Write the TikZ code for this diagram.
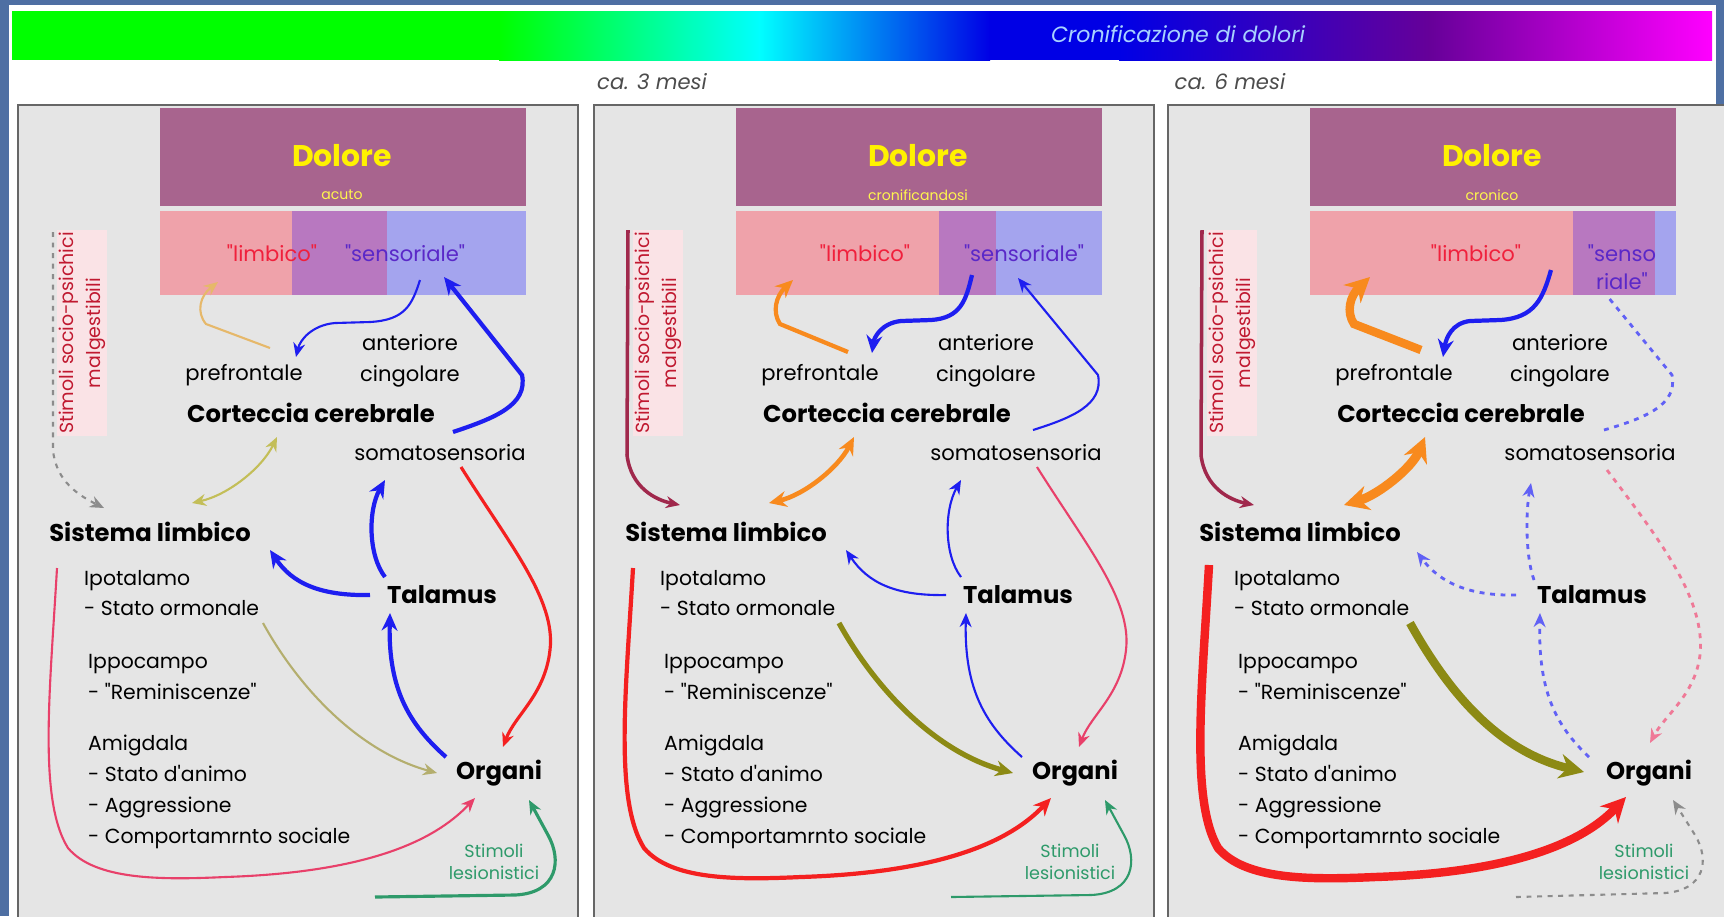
\documentclass[tikz,border=0pt]{standalone}
\usepackage{fontspec}
\setmainfont{Poppins}[Ligatures=TeXOff]
\usetikzlibrary{arrows.meta,positioning}
\definecolor{slideblue}{HTML}{4E6FA3}
\definecolor{panelgray}{HTML}{E5E5E5}
\definecolor{doloremauve}{HTML}{A8648E}
\definecolor{bandpink}{HTML}{EFA2AA}
\definecolor{bandpurple}{HTML}{B878C0}
\definecolor{bandblue}{HTML}{A4A4EE}
\definecolor{limbred}{HTML}{F0203C}
\definecolor{sensviolet}{HTML}{5A28C8}
\definecolor{arrowblue}{HTML}{1E1EF0}
\definecolor{arroworange}{HTML}{F88A1E}
\definecolor{arrowtan}{HTML}{E6B86A}
\definecolor{arrowolive}{HTML}{8C8A14}
\definecolor{arrowkhaki}{HTML}{B4AE6E}
\definecolor{arrowred}{HTML}{F42020}
\definecolor{arrowpink}{HTML}{E8406A}
\definecolor{stimgreen}{HTML}{2E9A6A}
\definecolor{stimmaroon}{HTML}{A0284C}
\definecolor{bartext}{HTML}{A8D2FF}

% text nodes that every panel repeats
\newcommand{\panelbase}[4]{%
  \fill[panelgray] (18,105) rectangle (578,930);
  \draw[black!60, line width=0.7pt] (18,105) rectangle (578,930);
  \fill[doloremauve] (160,108) rectangle (526,206);
  \fill[bandpink] (160,211) rectangle (#3,295);
  \fill[bandpurple] (#3,211) rectangle (#4,295);
  \fill[bandblue] (#4,211) rectangle (526,295);
  \node[dolore] (#1-dol) at (342,156) {Dolore};
  \node[subtitle] (#1-sub) at (342,195) {#2};
  \node[lbl] (#1-pref) at (244,375) {prefrontale};
  \node[lbl, align=center] (#1-ant) at (410,361) {anteriore\\cingolare};
  \node[big] (#1-cort) at (311,413) {Corteccia cerebrale};
  \node[lbl] (#1-soma) at (440,453) {somatosensoria};
  \node[big] (#1-sist) at (150,532) {Sistema limbico};
  \node[listtext] (#1-ipo) at (80,593) {Ipotalamo\\- Stato ormonale};
  \node[listtext] (#1-ippo) at (84,677) {Ippocampo\\- "Reminiscenze"};
  \node[listtext] (#1-amig) at (84,792) {Amigdala\\- Stato d'animo\\- Aggressione\\- Comportamrnto sociale};
  \node[big] (#1-tal) at (442,595) {Talamus};
  \node[big] (#1-org) at (499,773) {Organi};
  \node[stimtext] (#1-stim) at (494,862) {Stimoli\\lesionistici};
  \node[soctext] (#1-soc) at (82,333) {Stimoli socio-psichici\\malgestibili};
}

\begin{document}
\begin{tikzpicture}[x=0.1mm, y=-0.1mm,
  lbl/.style={font=\fontsize{6}{8.8}\selectfont, inner sep=1pt},
  big/.style={font=\fontsize{6.9}{8}\selectfont\bfseries, inner sep=1pt},
  listtext/.style={font=\fontsize{5.8}{8.8}\selectfont, align=left, anchor=west, inner sep=1pt},
  dolore/.style={font=\fontsize{8.5}{10}\selectfont\bfseries, text=yellow},
  subtitle/.style={font=\fontsize{4}{5}\selectfont, text=yellow!70!white},
  bandtext/.style={font=\fontsize{6}{8}\selectfont, inner sep=1pt, align=center},
  stimtext/.style={font=\fontsize{5}{6.4}\selectfont, text=stimgreen, align=center, inner sep=1pt},
  soctext/.style={font=\fontsize{5.4}{7.6}\selectfont, text=limbred!80!black, fill=bandpink!30, rotate=90, align=center, inner sep=0.5pt},
  arrthin/.style={line width=0.6pt, -{Stealth[length=4pt,width=3.4pt]}},
  arrmed/.style={line width=1.2pt, -{Stealth[length=5pt,width=4.5pt]}},
  arrthick/.style={line width=2.4pt, -{Stealth[length=7pt,width=7pt]}},
  dotline/.style={dash pattern=on 1.4pt off 1.6pt}
]
\useasboundingbox (0,0) rectangle (1724,916);
\clip (0,0) rectangle (1724,916);
\fill[slideblue] (0,0) rectangle (1724,916);
\fill[white] (9,5) rectangle (1716,916);

% colour bar
\fill[green] (12,11) rectangle (500,60);
\shade[left color=green, right color=cyan] (499,11) rectangle (760,60);
\shade[left color=cyan, right color=blue!90!black] (759,11) rectangle (990,60);
\fill[blue!90!black] (989,11) rectangle (1120,60);
\shade[left color=blue!90!black, right color=violet!80!blue] (1119,11) rectangle (1430,60);
\shade[left color=violet!80!blue, right color=magenta] (1429,11) rectangle (1712,60);
\node[font=\fontsize{6.3}{7}\selectfont\itshape, text=bartext] (bar) at (1178,34) {Cronificazione di dolori};
\node[font=\fontsize{6}{7}\selectfont\itshape, text=black!70] (mesi3) at (652,82) {ca. 3 mesi};
\node[font=\fontsize{6}{7}\selectfont\itshape, text=black!70] (mesi6) at (1230,82) {ca. 6 mesi};

% panel 1: acuto
\begin{scope}
\panelbase{a}{acuto}{292}{387}
\node[bandtext, text=limbred] (a-limb) at (272,253) {"limbico"};
\node[bandtext, text=sensviolet] (a-sens) at (405,253) {"sensoriale"};
\coordinate (a-socline) at (53,232);
\coordinate (a-lesline) at (375,897);
\draw[arrthin, arrowtan] ([xshift=2.6mm,yshift=2.7mm]a-pref.center) -- (206,324)
  .. controls (196,312) and (200,296) .. ([xshift=-5.4mm,yshift=-2.9mm]a-limb.center);
\draw[arrthin, arrowblue] ([xshift=1.5mm,yshift=-2.7mm]a-sens.center)
  .. controls (412,305) and (405,320) .. (370,322) -- (335,323)
  .. controls (312,325) and (300,340) .. ([xshift=5.2mm,yshift=1.8mm]a-pref.center);
\draw[arrmed, arrowblue] ([xshift=1.3mm,yshift=2.1mm]a-soma.center)
  .. controls (495,418) and (528,405) .. (522,375) -- ([xshift=3.9mm,yshift=-2.4mm]a-sens.center);
\draw[line width=0.6pt, arrowkhaki!80!yellow, {Stealth[length=4pt,width=3.4pt]}-{Stealth[length=4pt,width=3.4pt]}]
  ([xshift=-3.4mm,yshift=-2.4mm]a-cort.center) .. controls (262,468) and (228,495) .. ([xshift=4.2mm,yshift=2.9mm]a-sist.center);
\draw[arrthin, black!45, dotline] (a-socline) -- (53,450)
  .. controls (56,482) and (80,496) .. ([xshift=-4.6mm,yshift=2.4mm]a-sist.center);
\draw[arrthin, arrowred, line width=0.9pt] ([xshift=2.1mm,yshift=-1.4mm]a-soma.center)
  .. controls (510,545) and (556,600) .. (550,650) .. controls (545,695) and (515,715) .. ([xshift=0.4mm,yshift=2.6mm]a-org.center);
\draw[arrmed, arrowblue] ([xshift=-5.3mm,yshift=1.6mm]a-org.center)
  .. controls (410,725) and (388,690) .. ([xshift=-5.2mm,yshift=-1.8mm]a-tal.center);
\draw[arrmed, arrowblue] ([xshift=-5.7mm,yshift=1.8mm]a-tal.center)
  .. controls (368,555) and (368,510) .. ([xshift=-5.5mm,yshift=-2.7mm]a-soma.center);
\draw[arrmed, arrowblue] ([xshift=-7.2mm]a-tal.center)
  .. controls (320,596) and (292,583) .. ([xshift=12mm,yshift=-1.8mm]a-sist.center);
\draw[arrthin, arrowkhaki] ([xshift=18.3mm,yshift=-3mm]a-ipo.west)
  .. controls (300,690) and (360,752) .. ([xshift=-6.2mm]a-org.center);
\draw[arrthin, arrowpink] ([xshift=-2.3mm,yshift=2.5mm]a-ipo.west)
  .. controls (50,690) and (38,800) .. (68,848) .. controls (95,880) and (160,880) .. (225,877)
  .. controls (380,872) and (440,835) .. ([xshift=-2.4mm,yshift=-2.5mm]a-org.center);
\draw[arrthin, stimgreen, line width=0.9pt] (a-lesline) -- (515,895)
  .. controls (558,893) and (562,860) .. (548,835) -- ([xshift=3mm,yshift=-2.7mm]a-org.center);
\end{scope}

% panel 2: cronificandosi
\begin{scope}[shift={(576,0)}]
\panelbase{b}{cronificandosi}{363}{420}
\node[bandtext, text=limbred] (b-limb) at (289,253) {"limbico"};
\node[bandtext, text=sensviolet] (b-sens) at (448,253) {"sensoriale"};
\coordinate (b-socline) at (52,230);
\coordinate (b-lesline) at (375,897);
\draw[arrthin, stimmaroon, line width=1pt] (b-socline) -- (51,455)
  .. controls (55,488) and (80,500) .. ([xshift=-4.6mm,yshift=2.7mm]b-sist.center);
\draw[arrmed, arroworange] ([xshift=2.8mm,yshift=2.3mm]b-pref.center) -- (204,324)
  .. controls (196,312) and (200,296) .. ([xshift=-7.2mm,yshift=-2.7mm]b-limb.center);
\draw[arrmed, arrowblue] ([xshift=-5.2mm,yshift=-2.2mm]b-sens.center)
  .. controls (390,300) and (385,318) .. (355,320) -- (325,321)
  .. controls (305,323) and (298,338) .. ([xshift=5.2mm,yshift=2.2mm]b-pref.center);
\draw[arrthin, arrowblue] ([xshift=1.7mm,yshift=2.3mm]b-soma.center)
  .. controls (495,418) and (528,405) .. (522,375) -- ([xshift=-0.6mm,yshift=-2.5mm]b-sens.center);
\draw[line width=1.3pt, arroworange, {Stealth[length=5pt,width=4.5pt]}-{Stealth[length=5pt,width=4.5pt]}]
  ([xshift=-3.3mm,yshift=-2.4mm]b-cort.center) .. controls (262,468) and (228,495) .. ([xshift=4.3mm,yshift=2.9mm]b-sist.center);
\draw[arrthin, arrowpink] ([xshift=2.1mm,yshift=-1.4mm]b-soma.center)
  .. controls (510,545) and (556,600) .. (550,650) .. controls (545,695) and (515,715) .. ([xshift=0.4mm,yshift=2.6mm]b-org.center);
\draw[arrthin, arrowblue] ([xshift=-5.3mm,yshift=1.6mm]b-org.center)
  .. controls (410,725) and (388,690) .. ([xshift=-5.2mm,yshift=-1.8mm]b-tal.center);
\draw[arrthin, arrowblue] ([xshift=-5.7mm,yshift=1.8mm]b-tal.center)
  .. controls (368,555) and (368,510) .. ([xshift=-5.5mm,yshift=-2.7mm]b-soma.center);
\draw[arrthin, arrowblue] ([xshift=-7.2mm]b-tal.center)
  .. controls (320,596) and (292,583) .. ([xshift=12mm,yshift=-1.8mm]b-sist.center);
\draw[arrmed, arrowolive, line width=1.5pt] ([xshift=18.3mm,yshift=-3mm]b-ipo.west)
  .. controls (300,690) and (360,752) .. ([xshift=-6.2mm]b-org.center);
\draw[arrmed, arrowred] ([xshift=-2.3mm,yshift=2.5mm]b-ipo.west)
  .. controls (50,690) and (38,800) .. (68,848) .. controls (95,880) and (160,880) .. (225,877)
  .. controls (380,872) and (440,835) .. ([xshift=-2.4mm,yshift=-2.5mm]b-org.center);
\draw[arrthin, stimgreen] (b-lesline) -- (515,895)
  .. controls (558,893) and (562,860) .. (548,835) -- ([xshift=3mm,yshift=-2.7mm]b-org.center);
\end{scope}

% panel 3: cronico
\begin{scope}[shift={(1150,0)}]
\panelbase{c}{cronico}{423}{505}
\node[bandtext, text=limbred] (c-limb) at (326,253) {"limbico"};
\node[bandtext, text=sensviolet] (c-sens) at (472,267) {"senso\\riale"};
\coordinate (c-socline) at (52,230);
\coordinate (c-lesline) at (366,897);
\draw[arrthin, stimmaroon, line width=1pt] (c-socline) -- (51,455)
  .. controls (55,488) and (80,500) .. ([xshift=-4.6mm,yshift=2.7mm]c-sist.center);
\draw[arrthick, arroworange] ([xshift=2.7mm,yshift=2.5mm]c-pref.center) -- (204,324)
  .. controls (196,312) and (200,296) .. ([xshift=-10.6mm,yshift=-2.4mm]c-limb.center);
\draw[arrmed, arrowblue] ([xshift=-7.1mm,yshift=-0.3mm]c-sens.center)
  .. controls (393,298) and (385,318) .. (350,320) -- (320,321)
  .. controls (302,323) and (296,338) .. ([xshift=4.9mm,yshift=1.8mm]c-pref.center);
\draw[line width=0.8pt, arrowblue!70, dotline] ([xshift=1.4mm,yshift=2.3mm]c-soma.center)
  .. controls (495,418) and (528,405) .. (522,375) -- ([xshift=-1.4mm,yshift=-3mm]c-sens.center);
\draw[line width=2.6pt, arroworange, {Stealth[length=7pt,width=7pt]}-{Stealth[length=7pt,width=7pt]}]
  ([xshift=-3.6mm,yshift=-2.4mm]c-cort.center) .. controls (262,468) and (228,495) .. ([xshift=4.4mm,yshift=2.7mm]c-sist.center);
\draw[arrthin, arrowblue!70, dotline, line width=0.8pt] ([xshift=-5.8mm,yshift=1.5mm]c-tal.center)
  .. controls (375,555) and (376,510) .. ([xshift=-5.9mm,yshift=-3mm]c-soma.center);
\draw[arrthin, arrowblue!70, dotline, line width=0.8pt] ([xshift=-7.6mm]c-tal.center)
  .. controls (320,596) and (290,583) .. ([xshift=11.7mm,yshift=-2mm]c-sist.center);
\draw[arrthin, arrowblue!70, dotline, line width=0.8pt] ([xshift=-6mm,yshift=1.6mm]c-org.center)
  .. controls (405,725) and (388,690) .. ([xshift=-5.2mm,yshift=-1.8mm]c-tal.center);
\draw[arrthin, arrowpink!70, dotline, line width=0.8pt] ([xshift=1.7mm,yshift=-1.7mm]c-soma.center)
  .. controls (510,540) and (556,600) .. (550,655) .. controls (545,695) and (515,715) .. ([xshift=0.1mm,yshift=3mm]c-org.center);
\draw[arrthick, arrowolive] ([xshift=18mm,yshift=-3mm]c-ipo.west)
  .. controls (300,695) and (350,752) .. ([xshift=-6.5mm,yshift=0.1mm]c-org.center);
\draw[arrthick, arrowred] ([xshift=-2.1mm,yshift=2.8mm]c-ipo.west)
  .. controls (52,690) and (40,800) .. (68,848) .. controls (95,880) and (160,880) .. (225,877)
  .. controls (380,872) and (440,835) .. ([xshift=-2.3mm,yshift=-2.4mm]c-org.center);
\draw[arrthin, black!45, dotline] (c-lesline) -- (515,893)
  .. controls (555,890) and (560,860) .. (545,835) -- ([xshift=2.4mm,yshift=-2.7mm]c-org.center);
\end{scope}
\end{tikzpicture}
\end{document}
